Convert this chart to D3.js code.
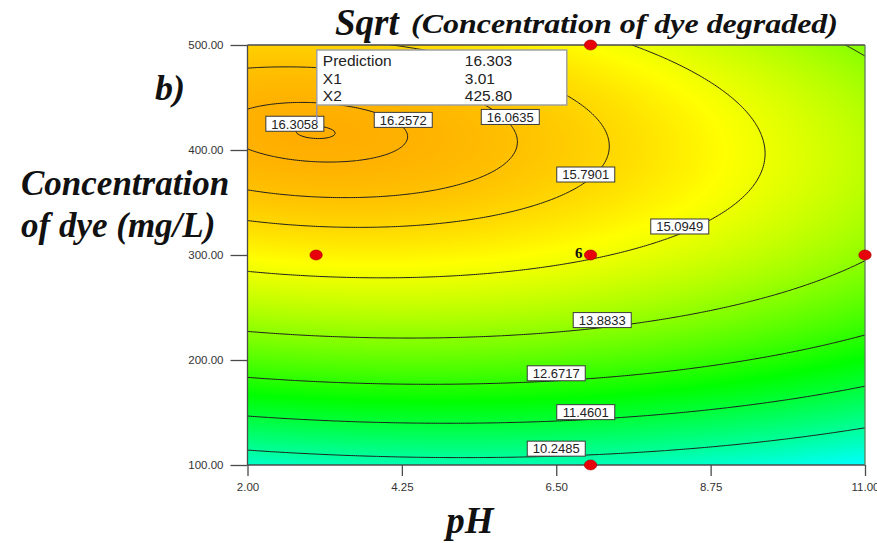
<!DOCTYPE html>
<html>
<head>
<meta charset="utf-8">
<script src="https://cdn.jsdelivr.net/npm/d3@7"></script>
<style>
  html, body { margin: 0; padding: 0; background: #fff; }
  svg { display: block; }
</style>
</head>
<body>
<svg id="chart" width="877" height="543"></svg>
<script>
// ---- Axes ----
const pHTicks = [2.00, 4.25, 6.50, 8.75, 11.00];
const concTicks = [100, 200, 300, 400, 500];

// ---- Fitted quadratic model of Sqrt(concentration degraded), coded units ----
// A = (pH - 6.5) / 4.5, B = (conc - 300) / 200
const modelTerms = ["b0", "A", "B", "AB", "A2", "B2"];
const modelCoefs = [15.2355, -0.701, 2.735, -0.361, -0.585, -2.58];

// ---- Contour levels drawn and labelled ----
const contourLevels = [10.2485, 11.4601, 12.6717, 13.8833, 15.0949, 15.7901, 16.0635, 16.2572, 16.3058];
// pH at which each level's label sits, and which branch of the contour carries it
const labelPH     = [6.50, 6.93, 6.50, 7.17, 8.30, 6.93, 5.83, 4.27, 2.69];
const labelBranch = ["lower", "lower", "lower", "lower", "lower", "lower", "upper", "upper", "upper"];

// ---- Design points ----
const designPH   = [3, 7, 7, 7, 11];
const designConc = [300, 500, 300, 100, 300];
const designReps = [1, 1, 6, 1, 1];

// ---- Prediction flag ----
const flagRows   = ["Prediction", "X1", "X2"];
const flagValues = ["16.303", "3.01", "425.80"];
const flagPH = 3.01, flagConc = 425.80;

const [b0, cA, cB, cAB, cAA, cBB] = modelCoefs;
const codeA = pH => (pH - 6.5) / 4.5;
const codeB = c => (c - 300) / 200;
function response(pH, conc) {
  const A = codeA(pH), B = codeB(conc);
  return b0 + cA * A + cB * B + cAB * A * B + cAA * A * A + cBB * B * B;
}
// concentration on a contour of given level at a given pH
function concOnContour(pH, level, branch) {
  const A = codeA(pH);
  const P = b0 + cA * A + cAA * A * A - level;
  const Q = cB + cAB * A;
  const disc = Math.max(0, Q * Q - 4 * cBB * P);
  const r1 = (-Q + Math.sqrt(disc)) / (2 * cBB);
  const r2 = (-Q - Math.sqrt(disc)) / (2 * cBB);
  const B = branch === "upper" ? Math.max(r1, r2) : Math.min(r1, r2);
  return 300 + 200 * B;
}

// ---- Layout ----
const svg = d3.select("#chart");
const x = d3.scaleLinear().domain([2, 11]).range([247.5, 865]);
const y = d3.scaleLinear().domain([100, 500]).range([465, 45]);
const [px0, px1] = x.range();
const [py1, py0] = y.range();
const pw = px1 - px0, ph = py1 - py0;

// colour ramp: blue - cyan - green - yellow - red
const ramp = d3.scaleLinear()
  .domain([0, 0.25, 0.5, 0.75, 1])
  .range(["#0000ff", "#00ffff", "#00ff00", "#ffff00", "#ff0000"])
  .clamp(true);
const valueToT = d3.scaleLinear().domain([9.0, 16.31]).range([0.25, 0.83]);

// ---- Shaded surface ----
const W = Math.round(pw), H = Math.round(ph);
const canvas = document.createElement("canvas");
canvas.width = W; canvas.height = H;
const ctx = canvas.getContext("2d");
const img = ctx.createImageData(W, H);
for (let j = 0; j < H; j++) {
  const conc = y.invert(py0 + j + 0.5);
  for (let i = 0; i < W; i++) {
    const pH = x.invert(px0 + i + 0.5);
    const c = d3.rgb(ramp(valueToT(response(pH, conc))));
    const k = (j * W + i) * 4;
    img.data[k] = c.r; img.data[k + 1] = c.g; img.data[k + 2] = c.b; img.data[k + 3] = 255;
  }
}
ctx.putImageData(img, 0, 0);

svg.append("defs").append("clipPath").attr("id", "plotClip")
  .append("rect").attr("x", px0).attr("y", py0).attr("width", pw).attr("height", ph);

svg.append("image")
  .attr("x", px0).attr("y", py0).attr("width", pw).attr("height", ph)
  .attr("preserveAspectRatio", "none")
  .attr("href", canvas.toDataURL());

// ---- Contour lines ----
const gx0 = 1.0, gx1 = 12.0, gy0 = 60, gy1 = 540;
const nx = 360, ny = 260;
const grid = new Array(nx * ny);
for (let j = 0; j < ny; j++) {
  const conc = gy0 + (j / (ny - 1)) * (gy1 - gy0);
  for (let i = 0; i < nx; i++) {
    const pH = gx0 + (i / (nx - 1)) * (gx1 - gx0);
    grid[j * nx + i] = response(pH, conc);
  }
}
const contours = d3.contours().size([nx, ny]).thresholds(contourLevels)(grid);
const gridToScreen = d3.geoTransform({
  point: function (gi, gj) {
    const pH = gx0 + ((gi - 0.5) / (nx - 1)) * (gx1 - gx0);
    const conc = gy0 + ((gj - 0.5) / (ny - 1)) * (gy1 - gy0);
    this.stream.point(x(pH), y(conc));
  }
});
const path = d3.geoPath(gridToScreen);
svg.append("g").attr("clip-path", "url(#plotClip)")
  .selectAll("path").data(contours).join("path")
  .attr("d", path)
  .attr("fill", "none")
  .attr("stroke", "#1e1e1e")
  .attr("stroke-width", 1);

// ---- Frame and axes ----
const frame = svg.append("g").attr("stroke", "#4a4a4a").attr("stroke-width", 1.3).attr("fill", "none");
frame.append("line").attr("x1", px0).attr("x2", px0).attr("y1", py0).attr("y2", py1);
frame.append("line").attr("x1", px0).attr("x2", px1).attr("y1", py1).attr("y2", py1);
frame.append("line").attr("x1", px0).attr("x2", px1).attr("y1", py0).attr("y2", py0);
frame.append("line").attr("x1", px1).attr("x2", px1).attr("y1", py0).attr("y2", py1).attr("stroke", "#5f7f5a");

const yAxis = d3.axisLeft(y).tickValues(concTicks).tickFormat(d3.format(".2f")).tickSize(17).tickPadding(7);
const xAxis = d3.axisBottom(x).tickValues(pHTicks).tickFormat(d3.format(".2f")).tickSize(11).tickPadding(7);
const gy = svg.append("g").attr("transform", `translate(${px0},0)`).call(yAxis);
const gxA = svg.append("g").attr("transform", `translate(0,${py1})`).call(xAxis);
[gy, gxA].forEach(g => {
  g.select(".domain").remove();
  g.selectAll(".tick line").attr("stroke", "#4a4a4a").attr("stroke-width", 1.3);
  g.selectAll(".tick text")
    .attr("fill", "#333")
    .style("font-family", "'Liberation Sans', Arial, sans-serif")
    .style("font-size", "11.5px");
});

// ---- Design points ----
const pts = svg.append("g");
designPH.forEach((p, i) => {
  pts.append("ellipse")
    .attr("cx", x(p)).attr("cy", y(designConc[i]))
    .attr("rx", 6.2).attr("ry", 5)
    .attr("fill", "#e8000a").attr("stroke", "#a00000").attr("stroke-width", 0.6);
  if (designReps[i] > 1) {
    pts.append("text")
      .attr("x", x(p) - 8).attr("y", y(designConc[i]) + 3)
      .attr("text-anchor", "end")
      .style("font-family", "'Liberation Serif', 'Times New Roman', serif")
      .style("font-weight", "bold")
      .style("font-size", "15px")
      .attr("fill", "#111")
      .text(designReps[i]);
  }
});

// ---- Contour labels ----
const labels = svg.append("g");
contourLevels.forEach((lv, i) => {
  const cx = x(labelPH[i]);
  const cy = y(concOnContour(labelPH[i], lv, labelBranch[i])) - 7.5;
  const w = 58, h = 15;
  labels.append("rect")
    .attr("x", cx - w / 2).attr("y", cy - h / 2).attr("width", w).attr("height", h)
    .attr("fill", "#fff").attr("stroke", "#3a3a3a").attr("stroke-width", 1);
  labels.append("text")
    .attr("x", cx).attr("y", cy + 4.8)
    .attr("text-anchor", "middle")
    .style("font-family", "'Liberation Sans', Arial, sans-serif")
    .style("font-size", "13px")
    .attr("fill", "#222")
    .text(lv.toFixed(4));
});

// ---- Prediction flag ----
const boxX = x(flagPH), boxY = 50, boxW = 250, boxH = 55;
svg.append("line")
  .attr("x1", x(flagPH)).attr("x2", x(flagPH))
  .attr("y1", boxY + boxH).attr("y2", y(flagConc))
  .attr("stroke", "#8c8cc0").attr("stroke-width", 1.3);
svg.append("rect")
  .attr("x", boxX).attr("y", boxY).attr("width", boxW).attr("height", boxH)
  .attr("fill", "#fff").attr("stroke", "#a0a0a0").attr("stroke-width", 1.5);
flagRows.forEach((r, i) => {
  const ty = boxY + 16 + i * 17.5;
  svg.append("text").attr("x", boxX + 6).attr("y", ty)
    .style("font-family", "'Liberation Sans', Arial, sans-serif").style("font-size", "15.5px")
    .attr("fill", "#222").text(r);
  svg.append("text").attr("x", boxX + 148).attr("y", ty)
    .style("font-family", "'Liberation Sans', Arial, sans-serif").style("font-size", "15.5px")
    .attr("fill", "#222").text(flagValues[i]);
});

// ---- Titles ----
const serif = "'Liberation Serif', 'Times New Roman', serif";
svg.append("text").attr("x", 335).attr("y", 35)
  .style("font-family", serif).style("font-weight", "bold").style("font-style", "italic")
  .style("font-size", "37px").attr("fill", "#111")
  .text("Sqrt");
svg.append("text").attr("x", 411).attr("y", 33)
  .attr("textLength", 427).attr("lengthAdjust", "spacingAndGlyphs")
  .style("font-family", serif).style("font-weight", "bold").style("font-style", "italic")
  .style("font-size", "27px").attr("fill", "#111")
  .text("(Concentration of dye degraded)");

svg.append("text").attr("x", 155).attr("y", 100)
  .style("font-family", serif).style("font-weight", "bold").style("font-style", "italic")
  .style("font-size", "36px").attr("fill", "#111").text("b)");

const yl = svg.append("text")
  .style("font-family", serif).style("font-weight", "bold").style("font-style", "italic")
  .style("font-size", "35px").attr("fill", "#111");
yl.append("tspan").attr("x", 21).attr("y", 195).text("Concentration");
yl.append("tspan").attr("x", 21).attr("y", 237).text("of dye (mg/L)");

svg.append("text").attr("x", 470).attr("y", 533).attr("text-anchor", "middle")
  .style("font-family", serif).style("font-weight", "bold").style("font-style", "italic")
  .style("font-size", "37px").attr("fill", "#111").text("pH");
</script>
</body>
</html>
